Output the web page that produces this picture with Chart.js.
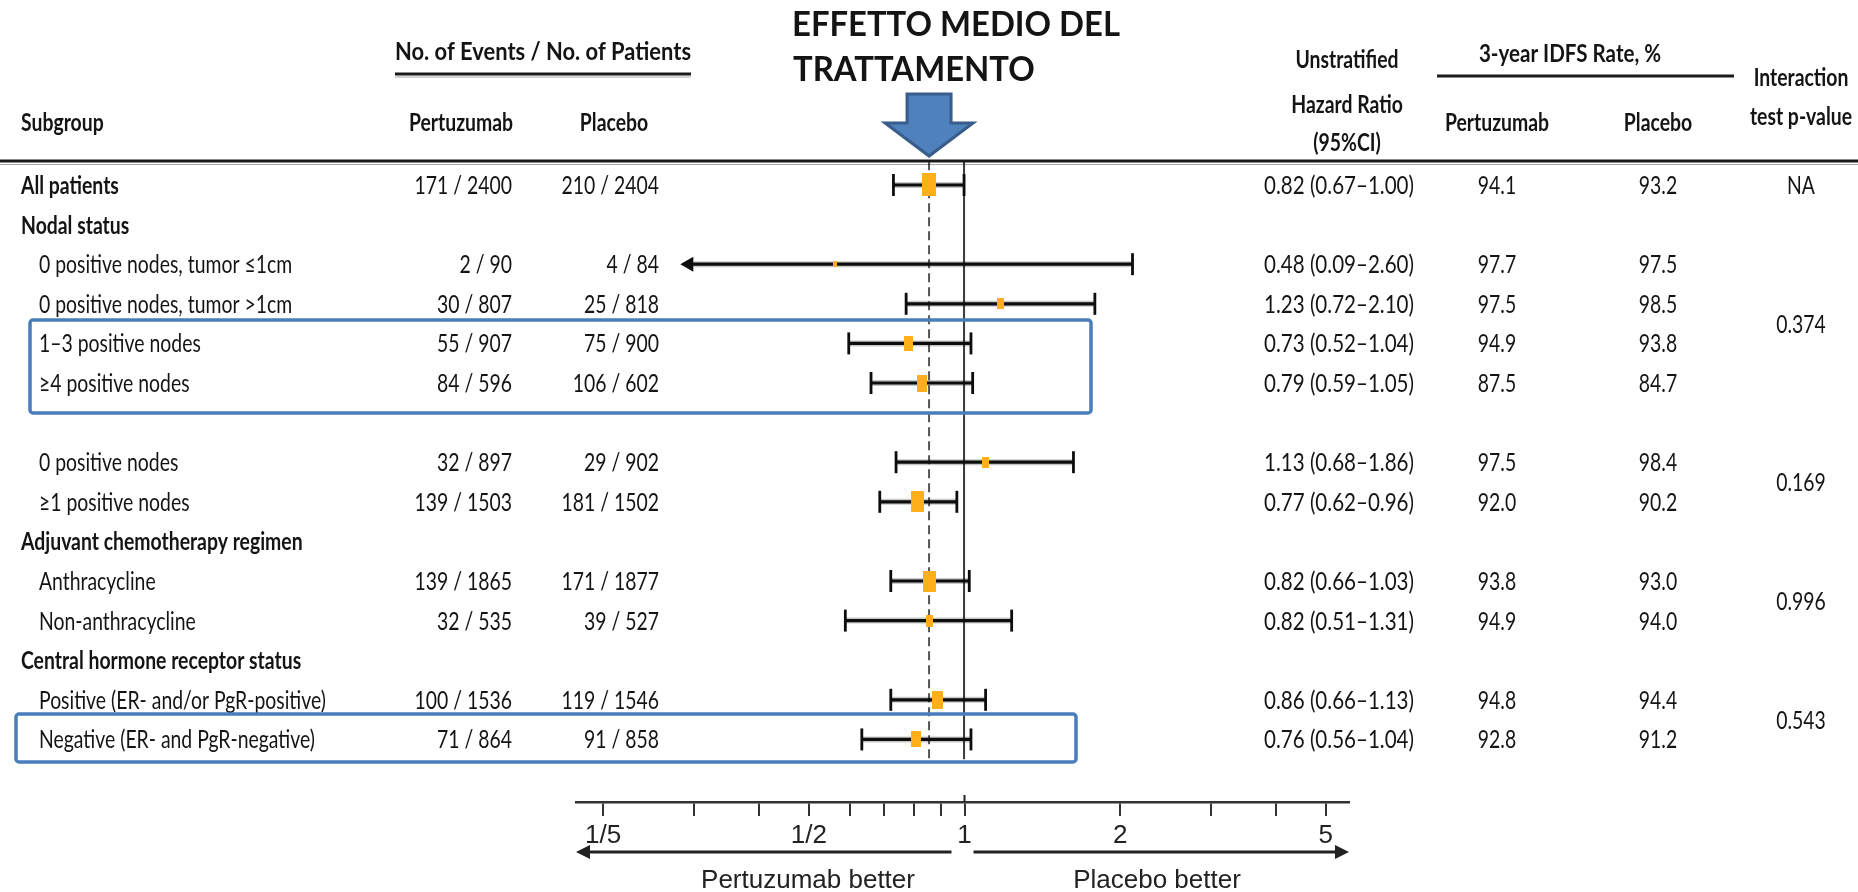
<!DOCTYPE html>
<html>
<head>
<meta charset="utf-8">
<title>Forest plot – IDFS by subgroup</title>
<script src="https://cdn.jsdelivr.net/npm/chart.js@4.4.1/dist/chart.umd.min.js"></script>
<style>
  html, body { margin: 0; padding: 0; background: #ffffff; }
  #wrap { width: 1858px; height: 892px; position: relative; }
  canvas { display: block; }
</style>
</head>
<body>
<div id="wrap"><canvas id="forest" width="1858" height="892"></canvas></div>
<script>
// ---------------- data ----------------
const subgroups = [
  'All patients',
  'Nodal status',
  '0 positive nodes, tumor \u22641cm',
  '0 positive nodes, tumor >1cm',
  '1\u20133 positive nodes',
  '\u22654 positive nodes',
  '',
  '0 positive nodes',
  '\u22651 positive nodes',
  'Adjuvant chemotherapy regimen',
  'Anthracycline',
  'Non-anthracycline',
  'Central hormone receptor status',
  'Positive (ER- and/or PgR-positive)',
  'Negative (ER- and PgR-negative)'
];
const isHeading = [true, true, false, false, false, false, false, false, false, true, false, false, true, false, false];

const pertuzumabEvents   = [171, null, 2, 30, 55, 84, null, 32, 139, null, 139, 32, null, 100, 71];
const pertuzumabPatients = [2400, null, 90, 807, 907, 596, null, 897, 1503, null, 1865, 535, null, 1536, 864];
const placeboEvents      = [210, null, 4, 25, 75, 106, null, 29, 181, null, 171, 39, null, 119, 91];
const placeboPatients    = [2404, null, 84, 818, 900, 602, null, 902, 1502, null, 1877, 527, null, 1546, 858];

const hazardRatio = [0.82, null, 0.48, 1.23, 0.73, 0.79, null, 1.13, 0.77, null, 0.82, 0.82, null, 0.86, 0.76];
const ciLower     = [0.67, null, 0.09, 0.72, 0.52, 0.59, null, 0.68, 0.62, null, 0.66, 0.51, null, 0.66, 0.56];
const ciUpper     = [1.00, null, 2.60, 2.10, 1.04, 1.05, null, 1.86, 0.96, null, 1.03, 1.31, null, 1.13, 1.04];

const idfsPertuzumab = [94.1, null, 97.7, 97.5, 94.9, 87.5, null, 97.5, 92.0, null, 93.8, 94.9, null, 94.8, 92.8];
const idfsPlacebo    = [93.2, null, 97.5, 98.5, 93.8, 84.7, null, 98.4, 90.2, null, 93.0, 94.0, null, 94.4, 91.2];

const interactionPValues = ['NA', '0.374', '0.169', '0.996', '0.543'];
const interactionRows    = [[0, 0], [2, 5], [7, 8], [10, 11], [13, 14]];

const axisTickValues = [0.2, 0.3, 0.4, 0.5, 0.6, 0.7, 0.8, 0.9, 1, 2, 3, 4, 5];
const axisTickText   = ['1/5', '', '', '1/2', '', '', '', '', '1', '2', '', '', '5'];

// ---------------- layout & style ----------------
const INK = '#141414';
const ORANGE = '#FFAF1A';
const FRAME_BLUE = '#4A7EBB';
const ARROW_FILL = '#4F81BD';
const ARROW_EDGE = '#385D8A';
const FAMILY = 'Lato, "Open Sans", sans-serif';
const AXIS_FAMILY = '"Liberation Sans", Arial, sans-serif';
const ROW_SIZE = 25;
const ROW_FONT = ROW_SIZE + 'px ' + FAMILY;
const ROW_FONT_BOLD = 'bold ' + ROW_SIZE + 'px ' + FAMILY;
const TITLE_FONT = 'bold 34px ' + FAMILY;
const BASE_SHIFT = 9;          // baseline offset from a row's centre line
const PLOT_MIN = 0.2;          // intervals below this are drawn as arrows
const REF_TOP = -0.6, REF_BOTTOM = 14.5;

const COL = {
  labelHead: 21, labelItem: 39,
  pertN: 512, placN: 659,
  hr: 1264, idfsPert: 1497, idfsPlac: 1658, pval: 1801
};

function fmtCount(e, n) { return e + ' / ' + n; }
function fmtHR(i) {
  return hazardRatio[i].toFixed(2) + ' (' + ciLower[i].toFixed(2) + '\u2013' + ciUpper[i].toFixed(2) + ')';
}

// orange squares: size follows the number of events in the subgroup
function markerCanvas(events) {
  const h = Math.round(4 + 0.95 * Math.sqrt(events));
  const w = Math.max(3, Math.round(h * 0.6));
  const c = document.createElement('canvas');
  c.width = w; c.height = h;
  const g = c.getContext('2d');
  g.fillStyle = ORANGE;
  g.fillRect(0, 0, w, h);
  return c;
}

const points = [];
const markers = [];
hazardRatio.forEach((hr, i) => {
  if (hr == null) return;
  points.push({ x: hr, y: i });
  markers.push(markerCanvas(pertuzumabEvents[i] + placeboEvents[i]));
});

// ---------------- drawing helpers ----------------
function text(ctx, str, x, y, font, align, sx) {
  ctx.save();
  ctx.font = font;
  ctx.fillStyle = INK;
  ctx.textBaseline = 'alphabetic';
  ctx.textAlign = align || 'left';
  ctx.translate(x, y);
  ctx.scale(sx || 1, 1);
  ctx.fillText(str, 0, 0);
  ctx.restore();
}
function seg(ctx, x0, y0, x1, y1) {
  ctx.beginPath(); ctx.moveTo(x0, y0); ctx.lineTo(x1, y1); ctx.stroke();
}
function widthOf(ctx, font, str) {
  ctx.save();
  ctx.font = font;
  const w = ctx.measureText(str).width;
  ctx.restore();
  return w;
}

// confidence intervals, drawn just beneath the markers
const whiskerPlugin = {
  id: 'ciWhiskers',
  beforeDatasetDraw(chart, args) {
    if (args.index !== 2) return;
    const { ctx, scales: { x, y } } = chart;
    ctx.save();
    ctx.lineCap = 'butt';
    hazardRatio.forEach((hr, i) => {
      if (hr == null) return;
      const yc = y.getPixelForValue(i);
      const cut = ciLower[i] < PLOT_MIN;
      const x0 = x.getPixelForValue(Math.max(ciLower[i], PLOT_MIN));
      const x1 = x.getPixelForValue(ciUpper[i]);
      ctx.strokeStyle = 'rgba(0,0,0,0.22)';
      ctx.lineWidth = 6;
      seg(ctx, x0 + (cut ? 10 : 0), yc, x1, yc);
      ctx.strokeStyle = '#0d0d0d';
      ctx.lineWidth = 3.2;
      seg(ctx, x0 + (cut ? 10 : 0), yc, x1, yc);
      ctx.lineWidth = 2.8;
      if (!cut) seg(ctx, x0, yc - 11, x0, yc + 11);
      seg(ctx, x1, yc - 11, x1, yc + 11);
      if (cut) {
        ctx.fillStyle = '#0d0d0d';
        ctx.beginPath();
        ctx.moveTo(x0, yc);
        ctx.lineTo(x0 + 13, yc - 7.5);
        ctx.lineTo(x0 + 13, yc + 7.5);
        ctx.closePath();
        ctx.fill();
      }
    });
    ctx.restore();
  }
};

// table columns, headings, call-outs and the axis captions
const tablePlugin = {
  id: 'forestTable',
  afterDraw(chart) {
    const { ctx, chartArea, scales: { x, y, x2 } } = chart;
    ctx.save();
    // condensed lettering for the table
    const sx = 287 / widthOf(ctx, ROW_FONT, 'Positive (ER- and/or PgR-positive)');
    const sxHead = 296 / widthOf(ctx, ROW_FONT_BOLD, 'No. of Events / No. of Patients');
    const base = v => y.getPixelForValue(v) + BASE_SHIFT;

    // column headings
    text(ctx, 'No. of Events / No. of Patients', 543, 60, ROW_FONT_BOLD, 'center', sxHead);
    ctx.strokeStyle = '#1a1a1a'; ctx.lineWidth = 3;
    seg(ctx, 395, 74, 691, 74);
    ctx.strokeStyle = 'rgba(0,0,0,0.35)'; ctx.lineWidth = 1;
    seg(ctx, 395, 77, 691, 77);
    text(ctx, 'Subgroup', COL.labelHead, 131, ROW_FONT_BOLD, 'left', sx);
    text(ctx, 'Pertuzumab', 461, 131, ROW_FONT_BOLD, 'center', sx);
    text(ctx, 'Placebo', 614, 131, ROW_FONT_BOLD, 'center', sx);
    text(ctx, 'Unstratified', 1347, 68, ROW_FONT_BOLD, 'center', sx);
    text(ctx, 'Hazard Ratio', 1347, 113, ROW_FONT_BOLD, 'center', sx);
    text(ctx, '(95%CI)', 1347, 151, ROW_FONT_BOLD, 'center', sx);
    text(ctx, '3-year IDFS Rate, %', 1570, 62, ROW_FONT_BOLD, 'center', sx * 1.06);
    ctx.strokeStyle = '#1a1a1a'; ctx.lineWidth = 3;
    seg(ctx, 1437, 76, 1734, 76);
    text(ctx, 'Pertuzumab', COL.idfsPert, 131, ROW_FONT_BOLD, 'center', sx);
    text(ctx, 'Placebo', COL.idfsPlac, 131, ROW_FONT_BOLD, 'center', sx);
    text(ctx, 'Interaction', COL.pval, 86, ROW_FONT_BOLD, 'center', sx);
    text(ctx, 'test p-value', COL.pval, 125, ROW_FONT_BOLD, 'center', sx);

    // rule under the headings
    ctx.strokeStyle = '#1a1a1a'; ctx.lineWidth = 3;
    seg(ctx, 0, 161, 1858, 161);
    ctx.strokeStyle = 'rgba(0,0,0,0.35)'; ctx.lineWidth = 1.2;
    seg(ctx, 0, 164.5, 1858, 164.5);

    // rows
    subgroups.forEach((label, i) => {
      const by = base(i);
      if (label) {
        text(ctx, label, isHeading[i] ? COL.labelHead : COL.labelItem, by,
             isHeading[i] ? ROW_FONT_BOLD : ROW_FONT, 'left', sx);
      }
      if (hazardRatio[i] == null) return;
      text(ctx, fmtCount(pertuzumabEvents[i], pertuzumabPatients[i]), COL.pertN, by, ROW_FONT, 'right', sx);
      text(ctx, fmtCount(placeboEvents[i], placeboPatients[i]), COL.placN, by, ROW_FONT, 'right', sx);
      text(ctx, fmtHR(i), COL.hr, by, ROW_FONT, 'left', sx * 1.06);
      text(ctx, idfsPertuzumab[i].toFixed(1), COL.idfsPert, by, ROW_FONT, 'center', sx);
      text(ctx, idfsPlacebo[i].toFixed(1), COL.idfsPlac, by, ROW_FONT, 'center', sx);
    });
    interactionPValues.forEach((p, k) => {
      const [a, b] = interactionRows[k];
      text(ctx, p, COL.pval, base((a + b) / 2), ROW_FONT, 'center', sx);
    });

    // highlighted subgroups
    ctx.strokeStyle = FRAME_BLUE; ctx.lineWidth = 3.5; ctx.lineJoin = 'round';
    ctx.beginPath(); ctx.roundRect(30, 320, 1061, 93, 3); ctx.stroke();
    ctx.beginPath(); ctx.roundRect(16, 714, 1060, 48, 3); ctx.stroke();

    // title and pointer to the overall effect
    const tsx = 328 / widthOf(ctx, TITLE_FONT, 'EFFETTO MEDIO DEL');
    text(ctx, 'EFFETTO MEDIO DEL', 792, 36, TITLE_FONT, 'left', tsx);
    text(ctx, 'TRATTAMENTO', 793, 81, TITLE_FONT, 'left', tsx);
    const ax = x.getPixelForValue(hazardRatio[0]);
    ctx.beginPath();
    ctx.moveTo(ax - 22, 94); ctx.lineTo(ax + 22, 94); ctx.lineTo(ax + 22, 123);
    ctx.lineTo(ax + 44, 123); ctx.lineTo(ax, 156); ctx.lineTo(ax - 44, 123);
    ctx.lineTo(ax - 22, 123); ctx.closePath();
    ctx.fillStyle = ARROW_FILL; ctx.fill();
    ctx.strokeStyle = ARROW_EDGE; ctx.lineWidth = 3; ctx.lineJoin = 'miter'; ctx.stroke();

    // axis extras: raised tick at 1, direction arrows and captions
    const one = x2.getPixelForValue(1);
    const ab = chartArea.bottom;
    ctx.strokeStyle = '#222'; ctx.lineWidth = 2;
    seg(ctx, one, ab - 7, one, ab);
    const ay = 852;
    ctx.lineWidth = 3;
    seg(ctx, chartArea.left + 10, ay, one - 13, ay);
    seg(ctx, one + 9, ay, chartArea.right - 10, ay);
    ctx.fillStyle = '#222';
    ctx.beginPath(); ctx.moveTo(chartArea.left, ay); ctx.lineTo(chartArea.left + 14, ay - 7);
    ctx.lineTo(chartArea.left + 14, ay + 7); ctx.closePath(); ctx.fill();
    ctx.beginPath(); ctx.moveTo(chartArea.right, ay); ctx.lineTo(chartArea.right - 14, ay - 7);
    ctx.lineTo(chartArea.right - 14, ay + 7); ctx.closePath(); ctx.fill();
    ctx.font = '26px ' + AXIS_FAMILY; ctx.fillStyle = '#222';
    ctx.textAlign = 'center'; ctx.textBaseline = 'alphabetic';
    ctx.fillText('Pertuzumab better', 808, 888);
    ctx.fillText('Placebo better', 1157, 888);
    ctx.restore();
  }
};

new Chart(document.getElementById('forest'), {
  type: 'scatter',
  data: {
    datasets: [
      {
        type: 'line', label: 'No effect',
        data: [{ x: 1, y: REF_TOP }, { x: 1, y: REF_BOTTOM }],
        borderColor: '#3a3a3a', borderWidth: 2, pointRadius: 0, order: 3
      },
      {
        type: 'line', label: 'Overall effect',
        data: [{ x: hazardRatio[0], y: REF_TOP }, { x: hazardRatio[0], y: REF_BOTTOM }],
        borderColor: '#555555', borderWidth: 2, borderDash: [9, 5], pointRadius: 0, order: 2
      },
      {
        type: 'scatter', label: 'Hazard ratio',
        data: points,
        pointStyle: ctx => markers[ctx.dataIndex],
        pointRadius: 8, pointHoverRadius: 8,
        order: 1
      }
    ]
  },
  options: {
    responsive: false,
    devicePixelRatio: 1,
    animation: false,
    events: [],
    layout: { padding: { left: 576, right: 509, top: 160, bottom: 34 } },
    plugins: { legend: { display: false }, tooltip: { enabled: false }, title: { display: false } },
    scales: {
      x: { type: 'logarithmic', display: false, min: 0.1107, max: 8.876 },
      y: { type: 'linear', display: false, reverse: true, min: -0.631, max: 15.58 },
      x2: {
        type: 'logarithmic', axis: 'x', position: 'bottom', min: 0.1772, max: 5.543,
        afterBuildTicks: s => { s.ticks = axisTickValues.map(v => ({ value: v })); },
        afterFit: s => { s.height = 56; },
        ticks: {
          autoSkip: false, maxRotation: 0, minRotation: 0, padding: 4, color: '#222',
          font: { family: AXIS_FAMILY, size: 26 },
          callback: v => { const k = axisTickValues.indexOf(v); return k >= 0 ? axisTickText[k] : ''; }
        },
        grid: { display: true, drawOnChartArea: false, drawTicks: true, tickLength: 14, color: '#333', lineWidth: 2 },
        border: { display: true, color: '#333', width: 2.5 }
      }
    }
  },
  plugins: [whiskerPlugin, tablePlugin]
});
</script>
</body>
</html>
